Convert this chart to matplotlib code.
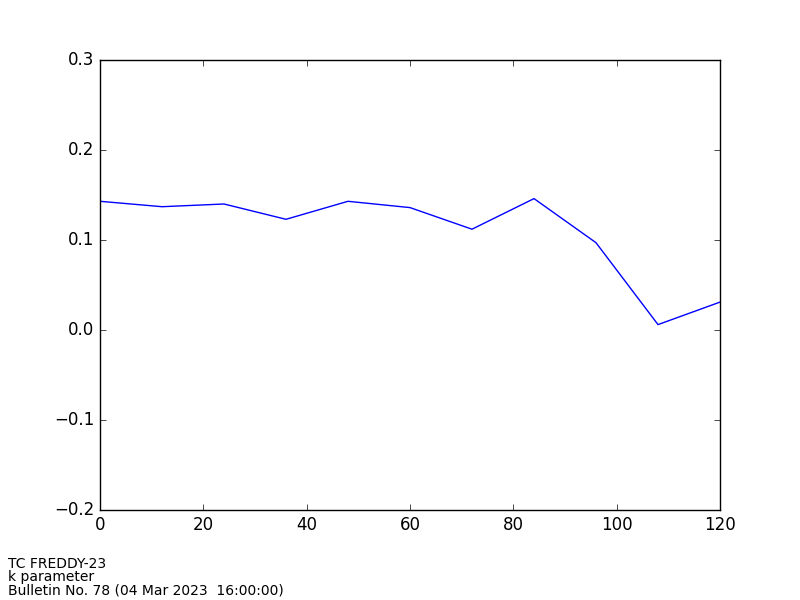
import matplotlib
matplotlib.use("Agg")
import matplotlib.pyplot as plt

hours = [0, 12, 24, 36, 48, 60, 72, 84, 96, 108, 120]
k_param = [0.143, 0.137, 0.140, 0.123, 0.143, 0.136, 0.112, 0.146, 0.097, 0.006, 0.031]

plt.style.use('classic')
fig = plt.figure(figsize=(8, 6), dpi=100, facecolor='white')
ax = fig.add_axes([0.125, 0.15, 0.775, 0.75])
ax.plot(hours, k_param, color='b', linewidth=1)
ax.set_xlim(0, 120)
ax.set_ylim(-0.2, 0.3)
ax.set_xticks([0, 20, 40, 60, 80, 100, 120])
ax.set_yticks([-0.2, -0.1, 0.0, 0.1, 0.2, 0.3])

fig.text(0.01, 0.005, "TC FREDDY-23\nk parameter\nBulletin No. 78 (04 Mar 2023  16:00:00)",
         fontsize=10, va='bottom', ha='left', linespacing=0.9)

fig.savefig("out.png", dpi=100, facecolor='white')
